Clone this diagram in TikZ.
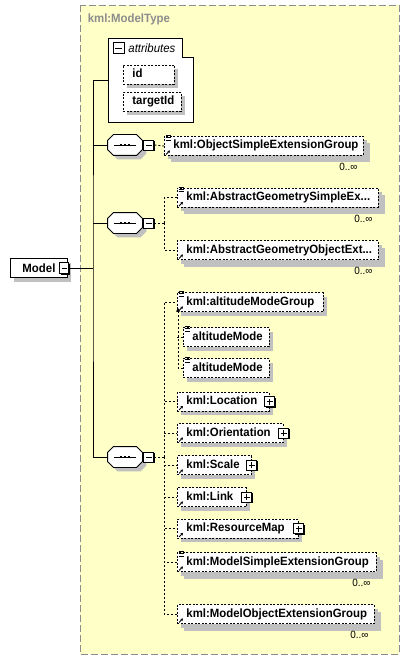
\documentclass[tikz,border=0pt]{standalone}
\usepackage{fontspec}
\setsansfont{Liberation Sans}[FakeStretch=0.95]
\usetikzlibrary{arrows.meta}
\definecolor{typebg}{RGB}{255,255,200}
\definecolor{shadowgray}{RGB}{192,192,192}
\definecolor{titlegray}{RGB}{140,140,140}
\tikzset{
  every node/.style={font=\sffamily\bfseries\fontsize{12}{14}\selectfont},
  gshadow/.style={preaction={draw=none, fill=shadowgray, transform canvas={shift={(#1,-#1)}}}},
  bshadow/.style={preaction={draw=none, fill=black, transform canvas={shift={(1pt,-1pt)}}}},
  elbox/.style={draw, dash pattern=on 2pt off 1.5pt, fill=white, anchor=west,
    minimum height=19pt, inner xsep=0pt, inner ysep=0pt, text height=8.5pt, text depth=2.5pt,
    text width=#1, align=left, execute at begin node={\hyphenpenalty=10000\hspace*{9pt}}, gshadow=4pt},
  multi/.style={gshadow=7pt, preaction={transform canvas={shift={(3pt,-3pt)}}},
    label={[occurs]south east:0..∞}},
  occurs/.style={font=\sffamily\fontsize{10.5}{12}\selectfont, anchor=north east, inner sep=0pt, xshift=-6pt, yshift=-7pt},
  btn/.style={draw, fill=white, minimum size=10pt, inner sep=0pt, bshadow},
  minusbtn/.style={btn, path picture={\draw ([xshift=2pt]path picture bounding box.west) -- ([xshift=-2pt]path picture bounding box.east);}},
  plusbtn/.style={btn, path picture={\draw ([xshift=2pt]path picture bounding box.west) -- ([xshift=-2pt]path picture bounding box.east);
    \draw ([yshift=-2pt]path picture bounding box.north) -- ([yshift=2pt]path picture bounding box.south);}},
  seq/.style={minimum width=34pt, minimum height=20pt, inner sep=0pt},
  conn/.style={dash pattern=on 2pt off 2pt},
}
\begin{document}
\begin{tikzpicture}[x=1pt, y=-1pt, line width=0.9pt]
\useasboundingbox (0,0) rectangle (410,660);

\draw[fill=typebg, draw=black!45, dash pattern=on 7pt off 3pt] (80,5) rectangle (399,654);
\node[anchor=west, text=titlegray] (typename) at (84,19) {kml:ModelType};

\node[draw, fill=white, minimum width=57pt, minimum height=19pt, anchor=west, gshadow=4pt] (model) at (10,268) {Model};
\node[minusbtn, minimum width=9pt, minimum height=11pt] (modelbtn) at (64,268) {};

\node[anchor=north west, minimum width=85pt, minimum height=84pt, inner sep=0pt] (attrs) at (108,38) {};
\draw[fill=white] (attrs.north west) -- ++(74,0) -- ++(0,19) -| (attrs.south east) -- (attrs.south west) -- cycle;
\node[minusbtn, minimum size=11pt] (attrbtn) at (118.5,48) {};
\node[anchor=west, font=\sffamily\itshape\fontsize{12}{14}\selectfont, inner sep=0pt] (attrtitle) at (128,48) {attributes};
\node[elbox=51pt] (id) at (123,74.5) {id};
\node[elbox=58pt] (targetid) at (123,102) {targetId};

\node[seq] (seq1) at (125,145) {};
\node[seq] (seq2) at (125,223) {};
\node[seq] (seq3) at (125,457) {};
\foreach \s in {seq1,seq2,seq3} {
  \draw[fill=white, gshadow=4pt] ([xshift=6pt]\s.north west) -- ([xshift=-6pt]\s.north east) -- ([yshift=-6pt]\s.north east)
    -- ([yshift=6pt]\s.south east) -- ([xshift=-6pt]\s.south east) -- ([xshift=6pt]\s.south west)
    -- ([yshift=6pt]\s.south west) -- ([yshift=-6pt]\s.north west) -- cycle;
  \draw ([xshift=6pt]\s.west) -- ([xshift=-6pt]\s.east);
  \foreach \d in {-4,0,4}
    \fill ([xshift=\d pt]\s.center) ++(-1.4,-1.4) rectangle ++(2.8,2.8);
}
\node[minusbtn, anchor=west] (seq1btn) at ([xshift=1pt]seq1.east) {};
\node[minusbtn, anchor=west] (seq2btn) at ([xshift=1pt]seq2.east) {};
\node[minusbtn, anchor=west] (seq3btn) at ([xshift=1pt]seq3.east) {};

\coordinate (trunk) at (93,268);
\draw (modelbtn.east) -- (trunk);
\draw (attrs.west) -| (trunk) |- (seq3.west);
\draw (trunk |- seq1.west) -- (seq1.west);
\draw (trunk |- seq2.west) -- (seq2.west);

\node[elbox=199pt, multi] (osg) at (164,146) {kml:ObjectSimpleExtensionGroup};
\node[elbox=201pt, multi] (agse) at (177,197.5) {kml:AbstractGeometrySimpleEx...};
\node[elbox=201pt, multi] (agoe) at (177,250) {kml:AbstractGeometryObjectExt...};

\node[elbox=146pt] (amg) at (177,302) {kml:altitudeModeGroup};
\node[elbox=86pt] (am1) at (183,337) {altitudeMode};
\node[elbox=86pt] (am2) at (183,368) {altitudeMode};
\node[elbox=92pt] (loc) at (177,401.5) {kml:Location};
\node[elbox=106pt] (orient) at (177,433) {kml:Orientation};
\node[elbox=74pt] (scale) at (177,465) {kml:Scale};
\node[elbox=69pt] (link) at (177,497) {kml:Link};
\node[elbox=121pt] (resmap) at (177,528.5) {kml:ResourceMap};
\node[elbox=199pt, multi] (mseg) at (177,562) {kml:ModelSimpleExtensionGroup};
\node[elbox=197pt, multi] (moeg) at (177,614) {kml:ModelObjectExtensionGroup};

\foreach \n in {loc,orient,scale,link,resmap}
  \node[plusbtn] (\n btn) at (\n.east) {};

\draw[conn] (seq1btn.east) -- (osg.west);
\draw[conn] (seq2btn.east) -- ++(10,0) coordinate (bus2);
\draw[conn] (bus2) |- (agse.west);
\draw[conn] (bus2) |- (agoe.west);
\draw[conn] (seq3btn.east) -- ++(10,0) coordinate (bus3);
\foreach \n in {amg,loc,orient,scale,link,resmap,mseg,moeg}
  \draw[conn] (bus3) |- (\n.west);
\draw[conn, -{Stealth[length=4pt, width=4pt]}, shorten >=-4pt] (am2.west) -| ([xshift=1pt]amg.south west);
\draw[conn] (am1.west) -- (am1.west -| amg.west);

\foreach \n in {osg,agse,amg,am1,am2,mseg}
  \foreach \k in {0,2.2,4.4}
    \draw[line width=0.8pt] ([xshift=1.5pt, yshift=0.5pt-\k pt]\n.north west) -- ++(5,0);
\foreach \n in {osg,agse,agoe,amg,loc,orient,scale,link,resmap,mseg,moeg}
  \draw[line width=0.9pt, -{Stealth[length=2.5pt, width=3pt]}] ([xshift=2pt, yshift=1.5pt]\n.south west) -- ++(4,-4);
\end{tikzpicture}
\end{document}
